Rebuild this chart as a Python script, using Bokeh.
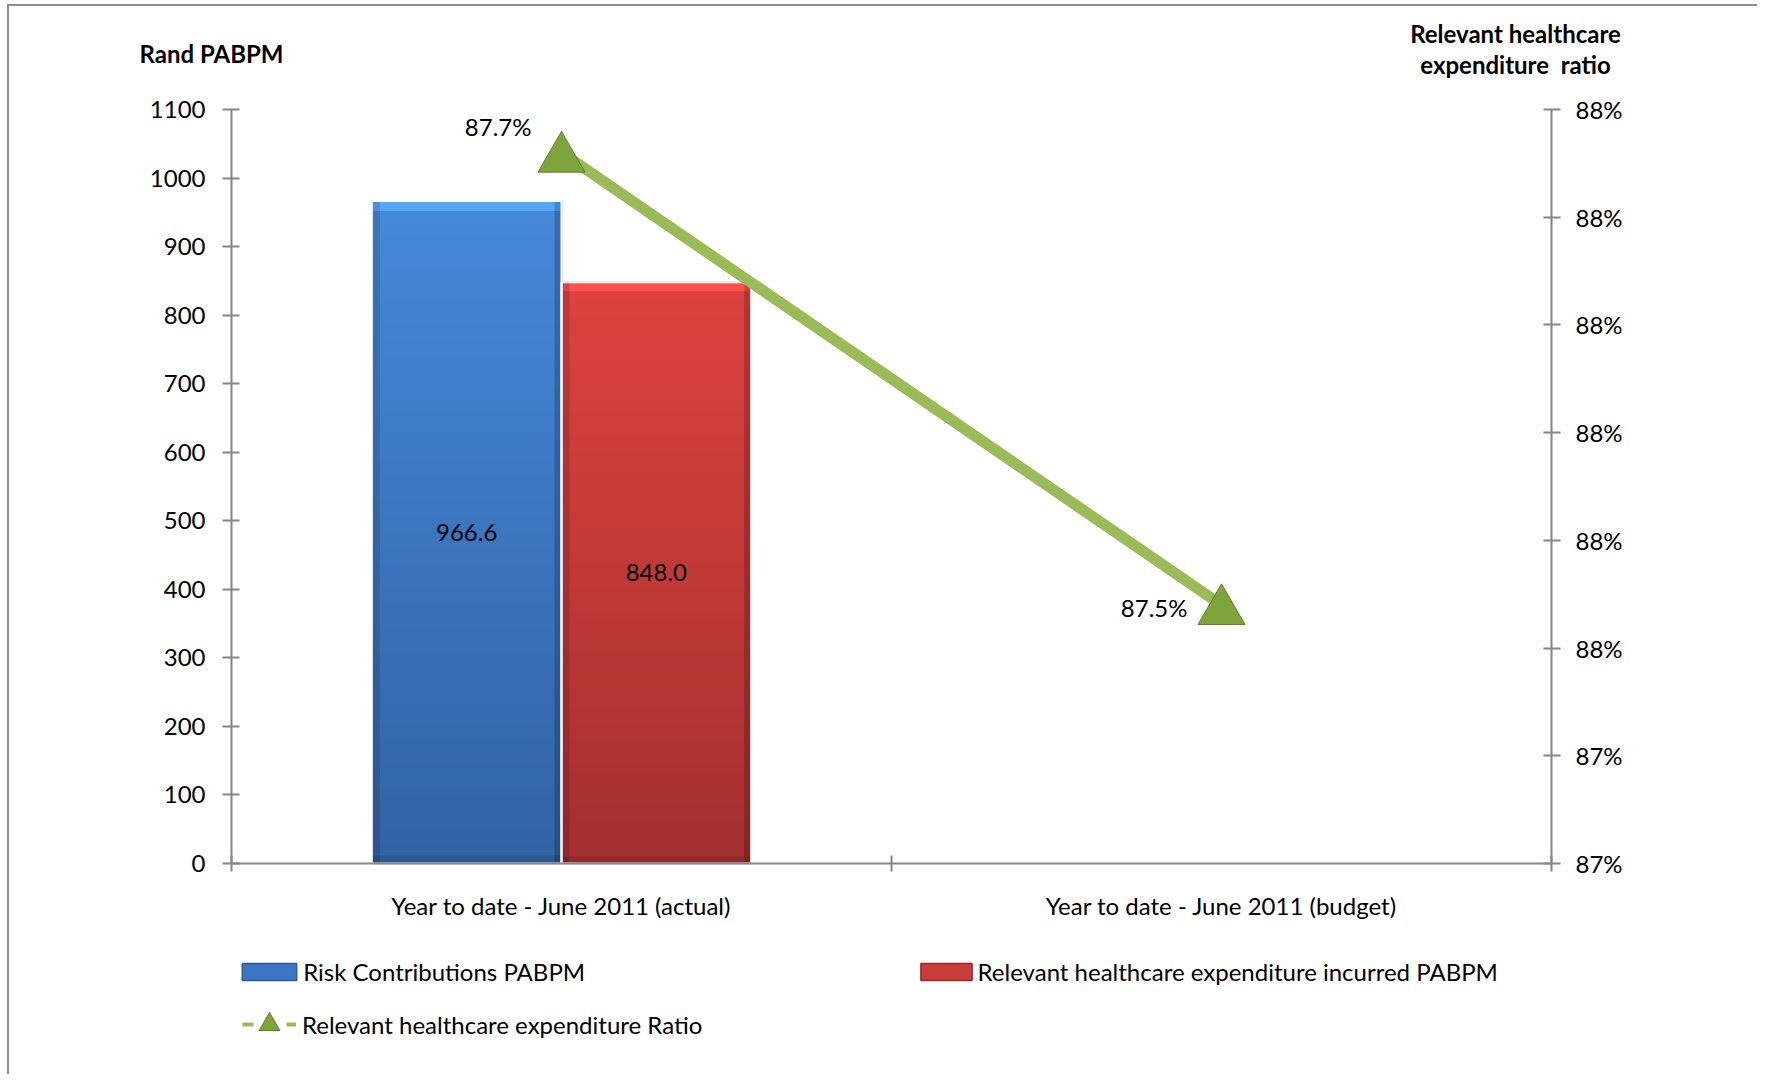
import numpy as np
from bokeh.plotting import figure
from bokeh.models import (Range1d, LinearAxis, FixedTicker, ColumnDataSource, LabelSet,
                          Label, Legend, LegendItem)
from bokeh.core.properties import value
from bokeh.embed import file_html
from bokeh.resources import INLINE

# ---------------- data ----------------
categories = ["Year to date - June 2011 (actual)", "Year to date - June 2011 (budget)"]
risk_contributions = [966.6]          # bars exist only for the actual period
rhe_incurred = [848.0]
ratio = [0.8773, 0.8752]
ratio_labels = ["87.7%", "87.5%"]
left_ticks = [0, 100, 200, 300, 400, 500, 600, 700, 800, 900, 1000, 1100]
ratio_ticks = [0.8740, 0.8745, 0.8750, 0.8755, 0.8760, 0.8765, 0.8770, 0.8775]
ratio_tick_labels = ["87%", "87%", "88%", "88%", "88%", "88%", "88%", "88%"]
series_names = ["Risk Contributions PABPM",
                "Relevant healthcare expenditure incurred PABPM",
                "Relevant healthcare expenditure Ratio"]

# ---------------- layout / style ----------------
FONT = "Lato"
FS = "24px"
GRAY = "#868686"
GREEN = "#9bbb59"
TRI_FILL = "#80a43c"
TRI_LINE = "#5e7d27"

OX, OY, W, H = 9, 6, 1750, 1070          # canvas position on the page
AX_L, AX_R, AX_B, AX_T = 231, 1551, 863, 109   # axes box on the page
MARKER_SHIFT_PX = 6                      # centre the triangle's box on its point
n_cat = len(categories)
cat_x = [i + 0.5 for i in range(n_cat)]
bar_w = 0.2874

kx = (AX_R - AX_L) / n_cat
ky = (AX_B - AX_T) / (left_ticks[-1] - left_ticks[0])
kr = (AX_B - AX_T) / (ratio_ticks[-1] - ratio_ticks[0])
x_range = Range1d((OX - AX_L) / kx, n_cat + (OX + W - AX_R) / kx)
y_range = Range1d(left_ticks[0] - (OY + H - AX_B) / ky, left_ticks[-1] + (AX_T - OY) / ky)
r_start = ratio_ticks[0] - (OY + H - AX_B) / kr
r_end = ratio_ticks[-1] + (AX_T - OY) / kr
r_range = Range1d(r_start, r_end)
mk_range = Range1d(r_start + MARKER_SHIFT_PX / kr, r_end + MARKER_SHIFT_PX / kr)


def sx(px):
    return px - OX


def sy(py):
    return OY + H - py


p = figure(width=W, height=H, x_range=x_range, y_range=y_range,
           output_backend="svg", toolbar_location=None, min_border=0,
           min_border_left=0, min_border_right=0, min_border_top=0, min_border_bottom=0)
p.extra_y_ranges = {"ratio": r_range, "ratio_marker": mk_range}
p.xgrid.visible = False
p.ygrid.visible = False
p.outline_line_color = None
p.background_fill_color = "white"
p.border_fill_color = "white"
p.styles = {"margin-left": "7px", "margin-top": "4px",
            "border-left": "2px solid #8f8f8f", "border-top": "2px solid #8f8f8f"}


def style_axis(ax):
    ax.axis_line_color = GRAY
    ax.axis_line_width = 2
    ax.major_tick_line_color = GRAY
    ax.major_tick_line_width = 2
    ax.major_label_text_font = FONT
    ax.major_label_text_font_size = FS
    ax.major_label_text_color = "black"


# left axis
ya = p.yaxis[0]
style_axis(ya)
ya.fixed_location = 0
ya.bounds = (left_ticks[0], left_ticks[-1])
ya.ticker = FixedTicker(ticks=left_ticks, minor_ticks=[])
ya.major_tick_in = 8
ya.major_tick_out = 9
ya.minor_tick_line_color = None
ya.major_label_standoff = 17

# bottom axis
xa = p.xaxis[0]
style_axis(xa)
xa.fixed_location = left_ticks[0]
xa.bounds = (0, n_cat)
xa.ticker = FixedTicker(ticks=cat_x, minor_ticks=list(range(n_cat + 1)))
xa.major_label_overrides = {x: c for x, c in zip(cat_x, categories)}
xa.major_tick_line_color = None
xa.major_tick_in = 0
xa.major_tick_out = 0
xa.minor_tick_line_color = GRAY
xa.minor_tick_line_width = 2
xa.minor_tick_in = 8
xa.minor_tick_out = 8
xa.major_label_standoff = 19

# right axis
ra = LinearAxis(y_range_name="ratio",
                ticker=FixedTicker(ticks=ratio_ticks, minor_ticks=[]),
                major_label_overrides=dict(zip(ratio_ticks, ratio_tick_labels)))
style_axis(ra)
ra.fixed_location = n_cat
ra.bounds = (ratio_ticks[0], ratio_ticks[-1])
ra.major_tick_in = 8
ra.major_tick_out = 9
ra.minor_tick_line_color = None
ra.major_label_standoff = 15
p.add_layout(ra, "right")

# bars
bar_src = ColumnDataSource(dict(
    xb=[cat_x[0] - bar_w / 2], xr=[cat_x[0] + bar_w / 2],
    blue=risk_contributions, red=rhe_incurred,
    blue_mid=[v / 2 for v in risk_contributions], red_mid=[v / 2 for v in rhe_incurred],
    blue_txt=[f"{v:.1f}" for v in risk_contributions], red_txt=[f"{v:.1f}" for v in rhe_incurred]))
r_blue = p.vbar(x="xb", top="blue", width=bar_w, source=bar_src,
                fill_color="#3c76c2", line_color="#2d5b97", line_width=1.5)
r_red = p.vbar(x="xr", top="red", width=bar_w, source=bar_src,
               fill_color="#c93e3b", line_color="#962b2b", line_width=1.5)


def gradient(top, bottom, rows=256, cols=48):
    top = np.array(top, float)
    bottom = np.array(bottom, float)
    t = np.linspace(0, 1, rows)[:, None, None]          # 0 bottom -> 1 top
    img = bottom + (top - bottom) * t
    img = np.repeat(img, cols, axis=1)
    # bevel: light band on top, darker sides
    img[-4:, :, :] = np.minimum(255, img[-4:, :, :] * 1.22)
    img[:, :2, :] *= 0.86
    img[:, -2:, :] *= 0.80
    img[:3, :, :] *= 0.88
    img = np.clip(img, 0, 255).astype(np.uint32)
    rgba = (255 << 24) | (img[:, :, 2] << 16) | (img[:, :, 1] << 8) | img[:, :, 0]
    return rgba.astype(np.uint32)


blue_img = gradient((70, 137, 218), (50, 99, 165))
red_img = gradient((222, 67, 63), (164, 48, 48))
p.image_rgba(image=[blue_img], x=bar_src.data["xb"][0] - bar_w / 2, y=0,
             dw=bar_w, dh=risk_contributions[0])
p.image_rgba(image=[red_img], x=bar_src.data["xr"][0] - bar_w / 2, y=0,
             dw=bar_w, dh=rhe_incurred[0])
# thin white separation on top of the shaded bars
p.vbar(x="xb", top="blue", width=bar_w, source=bar_src, fill_alpha=0,
       line_color="white", line_width=2)
p.vbar(x="xr", top="red", width=bar_w, source=bar_src, fill_alpha=0,
       line_color="white", line_width=2)

for xcol, ycol, tcol in (("xb", "blue_mid", "blue_txt"), ("xr", "red_mid", "red_txt")):
    p.add_layout(LabelSet(x=xcol, y=ycol, text=tcol, source=bar_src,
                          text_align="center", text_baseline="middle",
                          text_font=value(FONT), text_font_size=value(FS),
                          text_color="black"))

# ratio line and markers
p.line(x=cat_x, y=ratio, y_range_name="ratio", line_color=GREEN, line_width=11)
p.scatter(x=cat_x, y=ratio, y_range_name="ratio_marker", marker="triangle", size=47,
          fill_color=TRI_FILL, line_color=TRI_LINE, line_width=1)

p.add_layout(Label(x=cat_x[0], y=ratio[0], y_range_name="ratio", text=ratio_labels[0],
                   x_offset=-30, y_offset=26, text_align="right", text_baseline="middle",
                   text_font=FONT, text_font_size=FS, text_color="black"))
p.add_layout(Label(x=cat_x[1], y=ratio[1], y_range_name="ratio", text=ratio_labels[1],
                   x_offset=-34, y_offset=-3, text_align="right", text_baseline="middle",
                   text_font=FONT, text_font_size=FS, text_color="black"))

# axis titles
for txt, px, py in (("Rand PABPM", 211, 53),
                    ("Relevant healthcare", 1515, 33),
                    ("expenditure\u00a0 ratio", 1515, 64)):
    p.add_layout(Label(x=sx(px), y=sy(py), x_units="screen", y_units="screen", text=txt,
                       text_align="center", text_baseline="middle", text_font=FONT,
                       text_font_style="bold", text_font_size=FS, text_color="black"))

# legend-only renderers (hidden copies of the ratio series, styled like the legend key)
leg_line = p.line(x=cat_x, y=ratio, y_range_name="ratio", line_color=GREEN,
                  line_width=4, line_dash="11 33", visible=False)
leg_tri = p.scatter(x=cat_x, y=ratio, y_range_name="ratio", marker="triangle",
                    fill_color=TRI_FILL, line_color=TRI_LINE, visible=False)


def make_legend(items, loc, gw, gh, standoff):
    lg = Legend(items=items, location=loc, orientation="horizontal",
                padding=0, margin=0, spacing=0, border_line_color=None,
                background_fill_alpha=0, glyph_width=gw, glyph_height=gh,
                label_height=30, label_standoff=standoff, label_text_font=FONT,
                label_text_font_size=FS, label_text_color="black")
    p.add_layout(lg)
    return lg


make_legend([LegendItem(label=series_names[0], renderers=[r_blue])],
            (sx(242 - 6.8), sy(986.5)), 68, 21, 0)
make_legend([LegendItem(label=series_names[1], renderers=[r_red])],
            (sx(920 - 6.4), sy(986.5)), 64, 21, 0)
make_legend([LegendItem(label=series_names[2], renderers=[leg_line, leg_tri])],
            (sx(242), sy(1050)), 54, 52, 6)

open("out.html", "w").write(file_html(p, INLINE))
